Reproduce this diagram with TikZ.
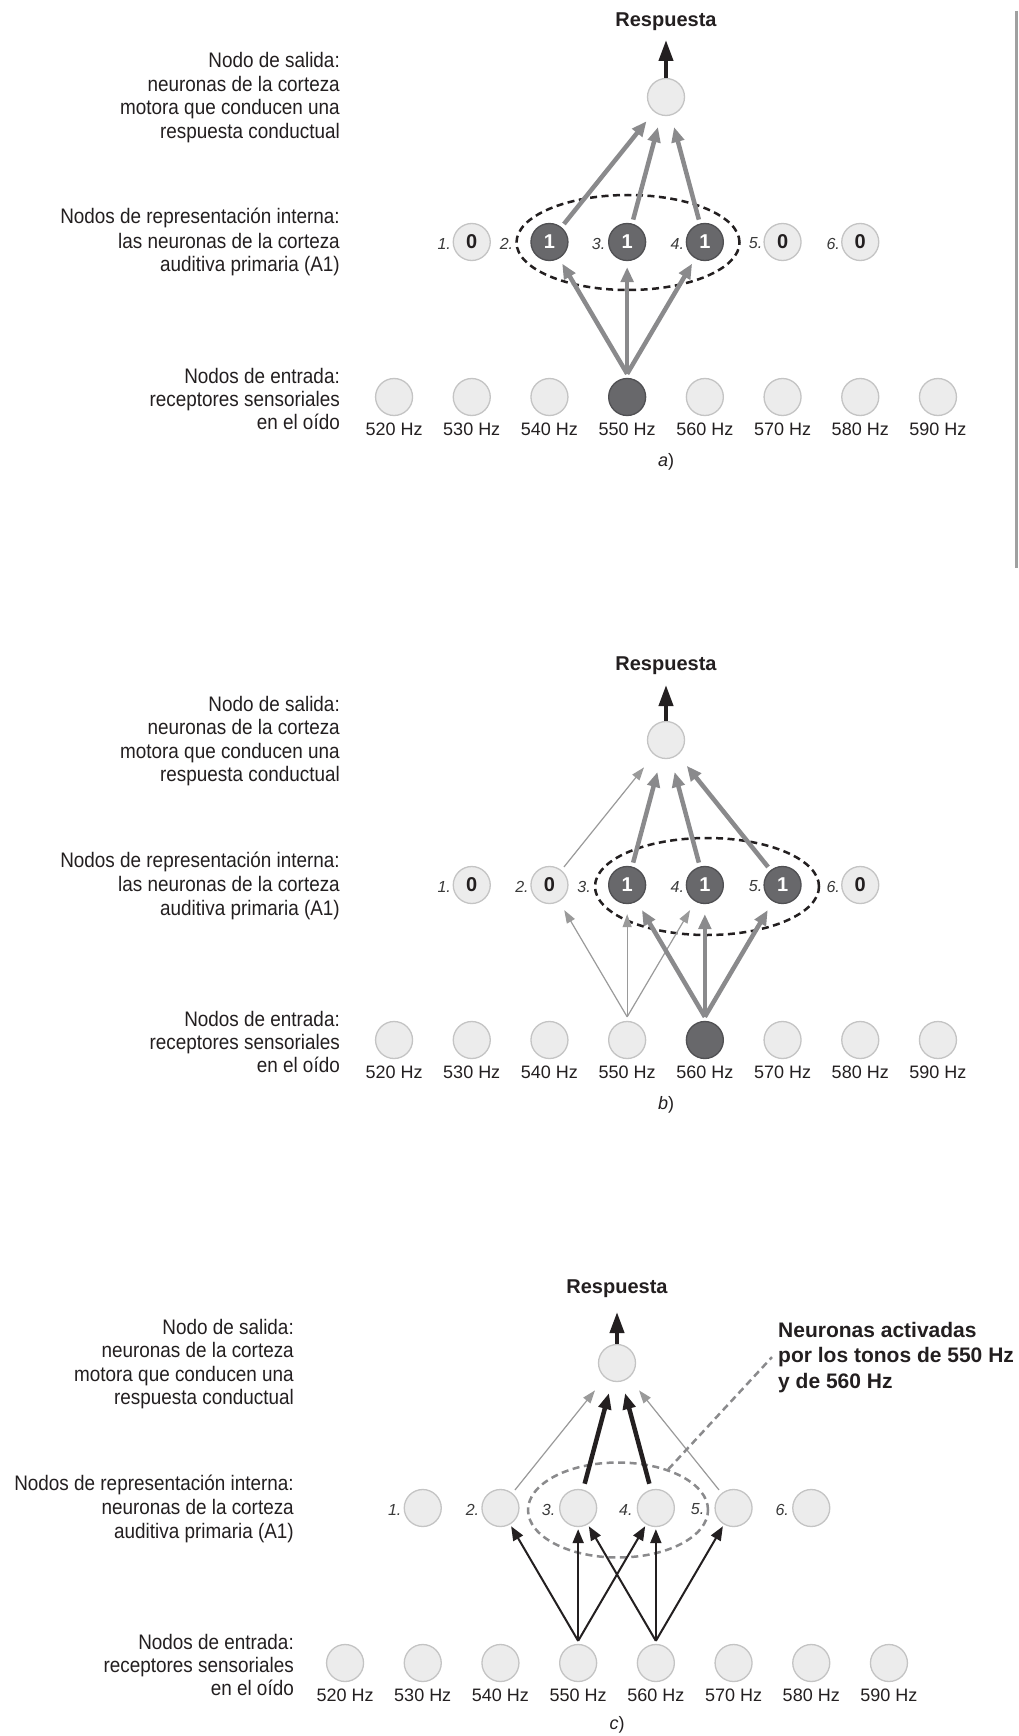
\documentclass[tikz,border=0pt]{standalone}
\usepackage{fontspec}
\setmainfont{Liberation Sans}
\newfontfamily\condfont[FakeStretch=0.9]{Liberation Sans}
\usetikzlibrary{arrows.meta,shapes.geometric}
\definecolor{nfill}{HTML}{ECECEC}
\definecolor{ndraw}{HTML}{C4C4C4}
\definecolor{dfill}{HTML}{68686B}
\definecolor{ddraw}{HTML}{505053}
\definecolor{agray}{HTML}{8A8A8C}
\definecolor{tgray}{HTML}{9A9A9A}
\definecolor{ink}{HTML}{231F20}
\definecolor{numc}{HTML}{3A3A3A}
\definecolor{rulec}{HTML}{A0A0A0}
\begin{document}
\begin{tikzpicture}[x=1pt,y=-1pt,
 lnode/.style={circle,draw=ndraw,fill=nfill,line width=1.3pt,minimum size=37pt,inner sep=0pt,font=\fontsize{20}{20}\selectfont\bfseries,text=ink},
 dnode/.style={lnode,draw=ddraw,fill=dfill,text=white},
 numlab/.style={font=\fontsize{16}{16}\selectfont\itshape,text=numc,inner sep=0pt,anchor=east},
 hzlab/.style={font=\fontsize{18}{18}\selectfont,text=ink,anchor=base,inner sep=0pt},
 ltext/.style={font=\condfont\fontsize{21}{21}\selectfont,text=ink,anchor=base east,inner sep=0pt},
 resp/.style={font=\fontsize{20}{20}\selectfont\bfseries,text=ink,anchor=base,inner sep=0pt},
 anntext/.style={font=\fontsize{21}{21}\selectfont\bfseries,text=ink,anchor=base west,inner sep=0pt},
 plab/.style={font=\fontsize{18}{18}\selectfont,text=ink,anchor=base,inner sep=0pt},
 thickg/.style={draw=agray,line width=4.5pt,-{Triangle[length=15pt,width=12.5pt]}},
 thing/.style={draw=tgray,line width=1.2pt,-{Triangle[length=13pt,width=9pt]}},
 blk/.style={draw=ink,line width=2pt,-{Triangle[length=14pt,width=11pt]}},
 thickblk/.style={draw=ink,line width=4.5pt,-{Triangle[length=16pt,width=12.5pt]}},
 toparrow/.style={draw=ink,line width=4pt,-{Triangle[length=21pt,width=14pt]}},
 grp/.style={ellipse,draw=ink,dash pattern=on 7pt off 4.5pt,line width=2.5pt,inner sep=0pt},
 ggrp/.style={grp,draw=agray},
 pointer/.style={draw=agray,dash pattern=on 7pt off 4.5pt,line width=2.5pt}]
\useasboundingbox (0,0) rectangle (1019,1736);
\fill[white] (0,0) rectangle (1019,1736);
\draw[draw=rulec,line width=2.5pt] (1016.5,11) -- (1016.5,568);

% ================= panel a =================
\begin{scope}
\node[ltext] (a-t1) at (340,68) {Nodo de salida:};
\node[ltext] (a-t2) at (340,91.5) {neuronas de la corteza};
\node[ltext] (a-t3) at (340,115) {motora que conducen una};
\node[ltext] (a-t4) at (340,138.5) {respuesta conductual};
\node[ltext] (a-t5) at (340,224) {Nodos de representación interna:};
\node[ltext] (a-t6) at (340,248) {las neuronas de la corteza};
\node[ltext] (a-t7) at (340,272) {auditiva primaria (A1)};
\node[ltext] (a-t8) at (340,383) {Nodos de entrada:};
\node[ltext] (a-t9) at (340,406) {receptores sensoriales};
\node[ltext] (a-t10) at (340,429) {en el oído};
\node[grp,minimum width=223pt,minimum height=95pt] (a-grp) at (628,242.5) {};
\foreach \i/\f/\s in {0/520/lnode,1/530/lnode,2/540/lnode,3/550/dnode,4/560/lnode,5/570/lnode,6/580/lnode,7/590/lnode}{
  \node[\s] (a-in\f) at ({666+77.7*(\i-3.5)},397) {};
  \node[hzlab] (a-hz\f) at ({666+77.7*(\i-3.5)},435) {\f\ Hz};
}
\foreach \j/\s/\v/\d in {1/lnode/0/-1.5,2/dnode/1/-17,3/dnode/1/-2.5,4/dnode/1/-1.5,5/lnode/0/-1,6/lnode/0/-1}{
  \node[\s] (a-h\j) at ({666+77.7*(\j-3.5)},242) {\v};
  \node[numlab] (a-n\j) at ([xshift=\d pt,yshift=-1.5pt]a-h\j.west) {\j.};
}
\node[lnode] (a-out) at (666,97) {};
\coordinate (a-top) at (666,40);
\node[resp] (a-resp) at (666,27) {Respuesta};
\draw[toparrow] (a-out) -- (a-top);
\coordinate (a-src) at ([yshift=4pt]a-in550.north);
\foreach \j in {2,3,4}{
  \draw[thickg,shorten >=6pt] (a-src) -- (a-h\j);
  \draw[thickg,shorten <=4pt,shorten >=12pt] (a-h\j) -- (a-out);
}
\node[plab] (a-lab) at (666,466) {\textit{a})};
\end{scope}

% ================= panel b =================
\begin{scope}[shift={(0,643)}]
\node[ltext] (b-t1) at (340,68) {Nodo de salida:};
\node[ltext] (b-t2) at (340,91.5) {neuronas de la corteza};
\node[ltext] (b-t3) at (340,115) {motora que conducen una};
\node[ltext] (b-t4) at (340,138.5) {respuesta conductual};
\node[ltext] (b-t5) at (340,224) {Nodos de representación interna:};
\node[ltext] (b-t6) at (340,248) {las neuronas de la corteza};
\node[ltext] (b-t7) at (340,272) {auditiva primaria (A1)};
\node[ltext] (b-t8) at (340,383) {Nodos de entrada:};
\node[ltext] (b-t9) at (340,406) {receptores sensoriales};
\node[ltext] (b-t10) at (340,429) {en el oído};
\node[grp,minimum width=224pt,minimum height=97pt] (b-grp) at (707,243.5) {};
\foreach \i/\f/\s in {0/520/lnode,1/530/lnode,2/540/lnode,3/550/lnode,4/560/dnode,5/570/lnode,6/580/lnode,7/590/lnode}{
  \node[\s] (b-in\f) at ({666+77.7*(\i-3.5)},397) {};
  \node[hzlab] (b-hz\f) at ({666+77.7*(\i-3.5)},435) {\f\ Hz};
}
\foreach \j/\s/\v/\d in {1/lnode/0/-1.5,2/lnode/0/-1.5,3/dnode/1/-17,4/dnode/1/-1.5,5/dnode/1/-1,6/lnode/0/-1}{
  \node[\s] (b-h\j) at ({666+77.7*(\j-3.5)},242) {\v};
  \node[numlab] (b-n\j) at ([xshift=\d pt,yshift=-1.5pt]b-h\j.west) {\j.};
}
\node[lnode] (b-out) at (666,97) {};
\coordinate (b-top) at (666,42);
\node[resp] (b-resp) at (666,27) {Respuesta};
\draw[toparrow] (b-out) -- (b-top);
\coordinate (b-srcA) at ([yshift=4pt]b-in550.north);
\coordinate (b-srcB) at ([yshift=4pt]b-in560.north);
\foreach \j in {2,3,4}{
  \draw[thing,shorten >=10pt] (b-srcA) -- (b-h\j);
}
\foreach \j in {3,4,5}{
  \draw[thickg,shorten >=10pt] (b-srcB) -- (b-h\j);
  \draw[thickg,shorten <=4pt,shorten >=14pt] (b-h\j) -- (b-out);
}
\draw[thing,shorten <=4pt,shorten >=16pt] (b-h2) -- (b-out);
\node[plab] (b-lab) at (666,466) {\textit{b})};
\end{scope}

% ================= panel c =================
\begin{scope}[shift={(-49,1266)}]
\node[ltext] (c-t1) at (343,68) {Nodo de salida:};
\node[ltext] (c-t2) at (343,91.5) {neuronas de la corteza};
\node[ltext] (c-t3) at (343,115) {motora que conducen una};
\node[ltext] (c-t4) at (343,138.5) {respuesta conductual};
\node[ltext] (c-t5) at (343,224) {Nodos de representación interna:};
\node[ltext] (c-t6) at (343,248) {neuronas de la corteza};
\node[ltext] (c-t7) at (343,272) {auditiva primaria (A1)};
\node[ltext] (c-t8) at (343,383) {Nodos de entrada:};
\node[ltext] (c-t9) at (343,406) {receptores sensoriales};
\node[ltext] (c-t10) at (343,429) {en el oído};
\node[ggrp,minimum width=180pt,minimum height=95pt] (c-grp) at (667,244) {};
\foreach \i/\f in {0/520,1/530,2/540,3/550,4/560,5/570,6/580,7/590}{
  \node[lnode] (c-in\f) at ({666+77.7*(\i-3.5)},397) {};
  \node[hzlab] (c-hz\f) at ({666+77.7*(\i-3.5)},435) {\f\ Hz};
}
\foreach \j/\d in {1/-2,2/-2,3/-3.5,4/-4,5/-10,6/-3}{
  \node[lnode] (c-h\j) at ({666+77.7*(\j-3.5)},242) {};
  \node[numlab] (c-n\j) at ([xshift=\d pt,yshift=-1.5pt]c-h\j.west) {\j.};
}
\node[lnode] (c-out) at (666,97) {};
\coordinate (c-top) at (666,46);
\node[resp] (c-resp) at (666,27) {Respuesta};
\draw[toparrow] (c-out) -- (c-top);
\coordinate (c-srcA) at ([yshift=3pt]c-in550.north);
\coordinate (c-srcB) at ([yshift=3pt]c-in560.north);
\foreach \j in {2,3,4}{
  \draw[blk,shorten >=2pt] (c-srcA) -- (c-h\j);
}
\foreach \j in {3,4,5}{
  \draw[blk,shorten >=2pt] (c-srcB) -- (c-h\j);
}
\draw[thickblk,shorten <=6pt,shorten >=12pt] (c-h3) -- (c-out);
\draw[thickblk,shorten <=6pt,shorten >=12pt] (c-h4) -- (c-out);
\draw[thing,shorten <=4pt,shorten >=16pt] (c-h2) -- (c-out);
\draw[thing,shorten <=4pt,shorten >=16pt] (c-h5) -- (c-out);
\node[plab] (c-lab) at (666,463) {\textit{c})};
\end{scope}

\node[anntext] (c-ann1) at (778,1337) {Neuronas activadas};
\node[anntext] (c-ann2) at (778,1362.5) {por los tonos de 550 Hz};
\node[anntext] (c-ann3) at (778,1388) {y de 560 Hz};
\draw[pointer] (c-grp.39) -- ([xshift=-6pt]c-ann2.west);
\end{tikzpicture}
\end{document}
